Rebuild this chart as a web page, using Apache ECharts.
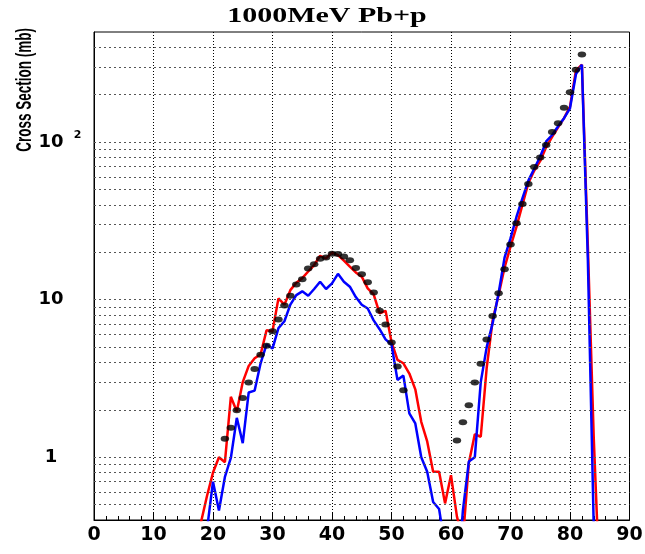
<!DOCTYPE html>
<html><head><meta charset="utf-8">
<script src="https://cdn.jsdelivr.net/npm/echarts@6/dist/echarts.min.js"></script>
<style>html,body{margin:0;padding:0;background:#fff}#c{width:645px;height:554px}</style>
</head><body><div id="c"></div>
<script>
// Z values of the two model curves
const lineZ = [17,18,19,20,21,22,23,24,25,26,27,28,29,30,31,32,33,34,35,36,37,38,39,40,41,42,43,44,45,46,47,48,49,50,51,52,53,54,55,56,57,58,59,60,61,62,63,64,65,66,67,68,69,70,71,72,73,74,75,76,77,78,79,80,81,82,83,84,85];
// red model (mb)
const redValues = [0.25,0.39,0.57,0.80,1.0,0.93,2.42,1.95,3.0,3.8,4.25,4.5,6.4,6.3,10.2,9.3,11.5,12.8,13.7,15.1,16.6,19.0,18.3,19.9,19.2,17.7,16.2,14.9,14.0,11.8,10.8,8.2,8.5,5.4,4.15,3.95,3.4,2.7,1.68,1.26,0.81,0.81,0.51,0.77,0.42,0.30,0.92,1.40,1.35,3.7,7.4,10.7,16.0,21.7,29.0,40.0,55.0,66.0,76.0,93.0,108,124,142,168,285,310,22,1.3,0.15];
// blue model (mb)
const blueValues = [0.08,0.15,0.35,0.70,0.46,0.75,0.99,1.78,1.23,2.58,2.65,3.95,5.2,4.9,6.6,7.3,9.3,10.7,11.3,10.6,11.7,13.0,11.7,12.7,14.6,13.0,12.1,10.4,9.3,8.8,7.4,6.5,5.6,5.2,3.1,3.3,1.9,1.64,1.0,0.81,0.52,0.47,0.27,0.15,0.15,0.46,0.94,1.0,3.0,5.0,7.1,11.0,18.5,24.5,33.5,44,57,68,81,101,111,126,142,164,270,310,18,0.35,0.1];
// experimental points
const dotZ = [22,23,24,25,26,27,28,29,30,31,32,33,34,35,36,37,38,39,40,41,42,43,44,45,46,47,48,49,50,51,52,61,62,63,64,65,66,67,68,69,70,71,72,73,74,75,76,77,78,79,80,81,82];
const dotValues = [1.31,1.54,1.99,2.38,2.98,3.64,4.48,5.1,6.3,7.5,9.2,10.6,12.5,13.5,15.8,16.8,18.2,18.5,19.6,19.5,18.8,17.8,15.9,14.5,12.9,11.1,8.5,6.95,5.35,3.77,2.66,1.28,1.67,2.14,2.98,3.93,5.59,7.89,11.0,15.6,22.4,30.6,40.5,54.3,69.6,80,96,116,132,165,207,288,360];
// horizontal (log) grid lines
const yGridValues = [0.5,0.6,0.7,0.8,0.9,1,2,3,4,5,6,7,8,9,10,20,30,40,50,60,70,80,90,100,200,300,400];
const titleText = '1000MeV Pb+p';
const yTitle = 'Cross Section (mb)';
const xTitle = 'Z';

const zip = (xs, ys) => xs.map((x, i) => [x, ys[i]]);

const chart = echarts.init(document.getElementById('c'), null, {renderer: 'canvas'});
const labelFont = '"DejaVu Sans", sans-serif';
chart.setOption({
  animation: false,
  backgroundColor: '#fff',
  grid: {left: 94, right: 15.5, top: 32, bottom: 34, show: true, borderColor: '#000', borderWidth: 1, backgroundColor: 'transparent', containLabel: false, outerBoundsMode: 'none'},
  graphic: [
    {type: 'text', x: 327, y: 17, scaleX: 1.5, scaleY: 1, silent: true,
     style: {text: titleText, font: 'bold 20px "Liberation Serif", serif', fill: '#000', align: 'center', verticalAlign: 'middle', textAlign: 'center', textVerticalAlign: 'middle'}},
    {type: 'text', x: 24.5, y: 28, rotation: Math.PI / 2, scaleX: 1, scaleY: 1.7, silent: true,
     style: {text: yTitle, font: 'bold 13.5px "Liberation Sans", sans-serif', fill: '#000', align: 'right', verticalAlign: 'middle', textAlign: 'right', textVerticalAlign: 'middle'}}
  ],
  xAxis: {
    type: 'value', min: 0, max: 90, interval: 10,
    name: xTitle, nameLocation: 'end', nameGap: 0,
    nameTextStyle: {fontFamily: labelFont, fontWeight: 'bold', fontSize: 19, color: '#000', align: 'right', verticalAlign: 'top', padding: [20, 0, 0, 0]},
    axisLine: {show: true, lineStyle: {color: '#000', width: 1}},
    axisTick: {show: true, inside: true, length: 8, lineStyle: {color: '#000'}},
    minorTick: {show: true, splitNumber: 5, length: 4, lineStyle: {color: '#000'}},
    axisLabel: {fontFamily: labelFont, fontWeight: 'bold', fontSize: 19, color: '#000', margin: 6},
    splitLine: {show: true, lineStyle: {color: '#000', type: [1, 2], width: 1}}
  },
  yAxis: {
    type: 'log', logBase: 10, min: 0.4, max: 500,
    axisLine: {show: true, lineStyle: {color: '#000', width: 1}},
    axisTick: {show: false},
    splitLine: {show: false},
    axisLabel: {
      showMinLabel: false, showMaxLabel: false,
      fontFamily: labelFont, fontWeight: 'bold', fontSize: 18, color: '#000',
      align: 'center', margin: 43,
      formatter: function (v) {
        const e = Math.log10(v);
        const r = Math.round(e);
        if (Math.abs(e - r) > 1e-6) return '';
        if (r === 0) return '1';
        if (r === 1) return '10';
        return '{pad| }{b|10}{s|' + r + '}';
      },
      rich: {
        pad: {width: 18, fontSize: 10, lineHeight: 26},
        b: {fontFamily: labelFont, fontWeight: 'bold', fontSize: 18, color: '#000', lineHeight: 26},
        s: {fontFamily: labelFont, fontWeight: 'bold', fontSize: 11, color: '#000', width: 18, align: 'right', verticalAlign: 'top', lineHeight: 11}
      }
    }
  },
  series: [
    {type: 'line', name: 'red', data: zip(lineZ, redValues), symbol: 'none', clip: true,
     lineStyle: {color: '#ff0000', width: 2.5}, z: 3,
     markLine: {silent: true, symbol: 'none', animation: false, label: {show: false},
       lineStyle: {color: '#555', type: [2, 3], width: 1},
       data: yGridValues.map(v => ({yAxis: v}))}},
    {type: 'line', name: 'blue', data: zip(lineZ, blueValues), symbol: 'none', clip: true,
     lineStyle: {color: '#0000ff', width: 2.5}, z: 4},
    {type: 'scatter', name: 'data', data: zip(dotZ, dotValues), symbol: 'circle', symbolSize: [8.5, 6],
     itemStyle: {color: '#000'}, z: 5}
  ]
});
</script></body></html>
